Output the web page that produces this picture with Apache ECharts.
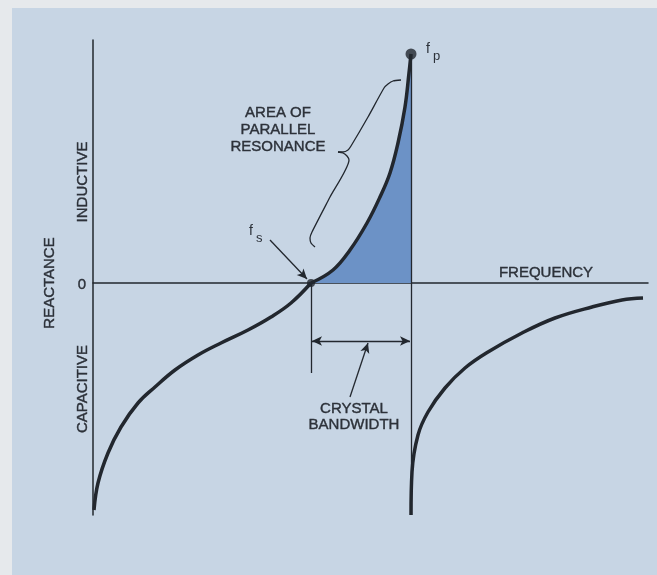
<!DOCTYPE html>
<html>
<head>
    <meta charset="utf-8">
    <title>Crystal reactance</title>
    <script src="https://cdn.jsdelivr.net/npm/echarts@6/dist/echarts.min.js"></script>
    <style>
        html, body { margin: 0; padding: 0; background: #e6e9ec; }
    </style>
</head>
<body>
<div id="main" style="width: 657px;height:575px;"></div>
<script type="text/javascript">

    // reactance curve (x = frequency, y = reactance, arbitrary units)
    var belowZero = [[1, -227], [5, -200], [15, -170], [28, -144], [45, -120], [62, -104],
        [82, -87], [105, -72], [128, -60], [155, -47], [178, -34], [198, -20], [218, 0]];
    var aboveZero = [[218, 0], [240, 13], [257, 33], [274, 60], [287, 86], [297, 110],
        [305, 140], [312, 176], [316, 210], [318, 229]];
    var afterFp = [[318, -232], [319, -189], [325, -152], [335, -129], [352, -105], [372, -85],
        [395, -69], [429, -50], [462, -35], [499, -24], [529, -17], [550, -15]];

    var fs = [218, 0];
    var fp = [318, 229];

    // curly brace next to the shaded area
    var braceTop = [[308, 203], [300, 202], [295, 199], [291, 195], [275, 166], [258, 137],
        [255, 133], [250, 131], [245, 131]];
    var braceBottom = [[245, 131], [250, 130], [254, 127], [256, 123], [237, 86], [219, 51],
        [217, 45], [218, 40], [222, 36]];

    var ink = '#22272e';
    var textColor = '#2c3139';
    var font = 'Liberation Sans';

    var myChart = echarts.init(document.getElementById('main'));

    function plainLine(from, to, arrows) {
        return [{coord: from, symbol: arrows[0]}, {coord: to, symbol: arrows[1]}];
    }

    myChart.setOption({
        animation: false,
        backgroundColor: '#e6e9ec',
        grid: {left: 93, right: 9, top: 40, bottom: 60},
        xAxis: {
            type: 'value', min: 0, max: 555,
            axisLine: {lineStyle: {color: ink, width: 1.5}},
            axisTick: {show: false}, axisLabel: {show: false}, splitLine: {show: false}
        },
        yAxis: {
            type: 'value', min: -232, max: 243,
            axisLine: {show: true, lineStyle: {color: ink, width: 1.5}},
            axisTick: {show: false}, axisLabel: {show: false}, splitLine: {show: false}
        },
        series: [
            {
                type: 'line', data: belowZero, smooth: 0.4, symbol: 'none', silent: true,
                lineStyle: {color: ink, width: 3.5}
            },
            {
                type: 'line', data: aboveZero, smooth: 0.4, symbol: 'none', silent: true,
                lineStyle: {color: ink, width: 3.5},
                areaStyle: {color: '#6c92c6', opacity: 1}
            },
            {
                type: 'line', data: afterFp, smooth: 0.4, symbol: 'none', silent: true,
                lineStyle: {color: ink, width: 3.5}
            },
            {
                type: 'line', data: braceTop, smooth: 0.2, symbol: 'none', silent: true,
                lineStyle: {color: ink, width: 1.3}
            },
            {
                type: 'line', data: braceBottom, smooth: 0.2, symbol: 'none', silent: true,
                lineStyle: {color: ink, width: 1.3},
                markLine: {
                    silent: true,
                    symbolSize: [7, 10],
                    label: {show: false},
                    lineStyle: {color: ink, width: 1.3, type: 'solid'},
                    data: [
                        plainLine([177, 43], [214, 4], ['none', 'arrow']),
                        plainLine([fs[0], 0], [fs[0], -90], ['none', 'none']),
                        plainLine([fp[0], fp[1]], [fp[0], -232], ['none', 'none']),
                        plainLine([219, -58], [317, -58], ['arrow', 'arrow']),
                        plainLine([257, -114], [275, -60], ['none', 'arrow'])
                    ]
                }
            },
            {
                type: 'scatter', silent: true,
                data: [{value: fs, symbolSize: 8}, {value: fp, symbolSize: 11}],
                itemStyle: {color: ink}
            }
        ]
    });

    // text notes, placed in data space
    var notes = [
        {text: 'AREA OF\nPARALLEL\nRESONANCE', at: [185, 153], rotate: 0, lh: 17},
        {text: 'FREQUENCY', at: [453, 10], rotate: 0, lh: 16},
        {text: 'CRYSTAL\nBANDWIDTH', at: [261, -134], rotate: 0, lh: 16},
        {text: 'INDUCTIVE', at: [-10, 101], rotate: 90, lh: 16},
        {text: 'CAPACITIVE', at: [-10, -106], rotate: 90, lh: 16},
        {text: 'REACTANCE', at: [-43, 0], rotate: 90, lh: 16},
        {text: '0', at: [-11, -2], rotate: 0, lh: 16}
    ];

    var graphics = [{
        type: 'rect', z: -10, silent: true,
        shape: {x: 12, y: 8, width: 645, height: 567},
        style: {fill: '#c7d5e4'}
    }];
    notes.forEach(function (n) {
        var p = myChart.convertToPixel({gridIndex: 0}, n.at);
        graphics.push({
            type: 'text', x: p[0], y: p[1], rotation: n.rotate * Math.PI / 180, silent: true,
            style: {
                text: n.text, fill: textColor, font: '15px "' + font + '"',
                align: 'center', verticalAlign: 'middle', lineHeight: n.lh,
                stroke: textColor, lineWidth: 0.4
            }
        });
    });

    // f with subscripts
    [['s', [156, 59]], ['p', [333, 241]]].forEach(function (s) {
        var p = myChart.convertToPixel({gridIndex: 0}, s[1]);
        graphics.push({
            type: 'text', x: p[0], y: p[1], silent: true,
            style: {
                text: '{f|f}{s|' + s[0] + '}',
                rich: {
                    f: {fontSize: 14, fontFamily: font, fill: textColor, verticalAlign: 'top'},
                    s: {fontSize: 13, fontFamily: font, fill: textColor, padding: [8, 0, 0, 3]}
                }
            }
        });
    });

    myChart.setOption({graphic: graphics});

</script>
</body>
</html>
